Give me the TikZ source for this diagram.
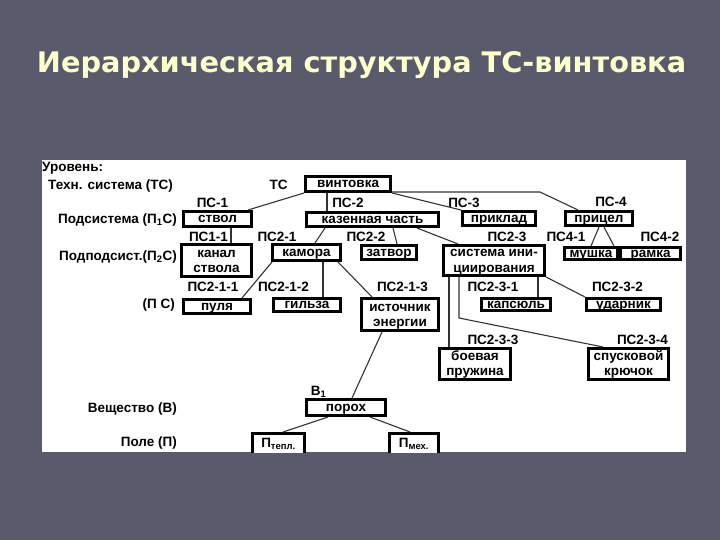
\documentclass[tikz,border=0pt]{standalone}
\usepackage{fontspec}
\usepackage{graphicx}
\setmainfont{Liberation Sans}
\newfontfamily\titlefont{DejaVu Sans}
\usetikzlibrary{calc}
\definecolor{bg}{RGB}{89,91,109}
\definecolor{ttl}{RGB}{255,255,204}
\begin{document}
\begin{tikzpicture}[x=1pt,y=-1pt,
  boxbase/.style={draw=black, line width=2.6pt, fill=white, inner sep=0pt,
    font=\bfseries\fontsize{13.5}{15}\selectfont},
  box/.style={boxbase, text height=10pt, text depth=2.4pt},
  box2/.style={boxbase, align=center, text height=24pt, text depth=1pt},
  lbl/.style={inner sep=0pt, font=\bfseries\fontsize{13.5}{15}\selectfont},
  con/.style={line width=1.1pt, draw=black!80}]
\fill[bg] (0,0) rectangle (720,540);
\useasboundingbox (0,0) rectangle (720,540);
\node[anchor=base, text=ttl, inner sep=0pt] (title) at (361.5,73)
  {\resizebox{649pt}{21pt}{\titlefont\bfseries Иерархическая структура ТС-винтовка}};
\fill[white] (42,160) rectangle (686,452);
\begin{scope}
\clip (42,160) rectangle (686,452);
% level labels
\node[lbl, anchor=west] (lv0) at (42,168) {Уровень:};
\node[lbl, anchor=west] (lv1) at (48,186) {Техн. система (ТС)};
\node[lbl, anchor=east] (lv2) at (177,220) {Подсистема (П\textsubscript{1}С)};
\node[lbl, anchor=east] (lv3) at (177,257) {Подподсист.(П\textsubscript{2}С)};
\node[lbl, anchor=east] (lv4) at (175,305) {(П С)};
\node[lbl, anchor=east] (lv5) at (177,409) {Вещество (В)};
\node[lbl, anchor=east] (lv6) at (177,443) {Поле (П)};
% boxes
\node[box, minimum width=85.4, minimum height=15.4] (vint) at (348,184) {винтовка};
\node[box, minimum width=68.4, minimum height=15.4] (stvol) at (217.5,219) {ствол};
\node[box, minimum width=132.4, minimum height=14.4] (kaz) at (372.5,219.5) {казенная часть};
\node[box, minimum width=73.4, minimum height=14.4] (priklad) at (499,218.5) {приклад};
\node[box, minimum width=67.4, minimum height=14.4] (pricel) at (599,218.5) {прицел};
\node[box2, minimum width=70.4, minimum height=32.4] (kanal) at (216.5,260.5) {канал\\ствола};
\node[box, minimum width=68.4, minimum height=16.4] (kamora) at (306.5,252.5) {камора};
\node[box, minimum width=55.4, minimum height=14.4] (zatvor) at (389,252.5) {затвор};
\node[box2, minimum width=101.4, minimum height=30.4, text height=25pt, text depth=1pt] (sistema) at (494,260.5) {система ини-\\[1pt]циирования};
\node[box, minimum width=53.4, minimum height=12.4] (mushka) at (591,253.5) {мушка};
\node[box, minimum width=60.4, minimum height=12.4] (ramka) at (650.5,253.5) {рамка};
\node[box, minimum width=67.4, minimum height=14.4] (pulya) at (217,306.5) {пуля};
\node[box, minimum width=67.4, minimum height=13.4] (gilza) at (307,305) {гильза};
\node[box2, minimum width=77.4, minimum height=32.4] (istochnik) at (400,314.5) {источник\\энергии};
\node[box, minimum width=69.4, minimum height=12.4] (kapsul) at (516,304.5) {капсюль};
\node[box, minimum width=74.4, minimum height=12.4] (udarnik) at (623.5,304.5) {ударник};
\node[box2, minimum width=71.4, minimum height=31.4] (boevaya) at (475,364) {боевая\\пружина};
\node[box2, minimum width=80.4, minimum height=31.4] (spusk) at (628.5,364) {спусковой\\крючок};
\node[box, minimum width=79.4, minimum height=16.4] (porokh) at (346,407.5) {порох};
\node[boxbase, minimum width=52.4, minimum height=21.4, text height=13pt, text depth=6pt] (pteplo) at (278.5,444) {П\textsubscript{тепл.}};
\node[boxbase, minimum width=49.4, minimum height=21.4, text height=13pt, text depth=6pt] (pmekh) at (414,444) {П\textsubscript{мех.}};
% level codes
\node[lbl] (tTS) at (278.5,185) {ТС};
\node[lbl] (tPS1) at (212.5,203) {ПС-1};
\node[lbl] (tPS2) at (348,203) {ПС-2};
\node[lbl] (tPS3) at (464,203) {ПС-3};
\node[lbl] (tPS4) at (611,202) {ПС-4};
\node[lbl] (tPS11) at (208.5,237) {ПС1-1};
\node[lbl] (tPS21) at (277,237) {ПС2-1};
\node[lbl] (tPS22) at (366,237) {ПС2-2};
\node[lbl] (tPS23) at (507,237) {ПС2-3};
\node[lbl] (tPS41) at (566,237) {ПС4-1};
\node[lbl] (tPS42) at (660,237) {ПС4-2};
\node[lbl] (tPS211) at (213,287) {ПС2-1-1};
\node[lbl] (tPS212) at (283.5,287) {ПС2-1-2};
\node[lbl] (tPS213) at (402.5,287) {ПС2-1-3};
\node[lbl] (tPS231) at (493,287) {ПС2-3-1};
\node[lbl] (tPS232) at (617.5,287) {ПС2-3-2};
\node[lbl] (tPS233) at (493,340) {ПС2-3-3};
\node[lbl] (tPS234) at (642.5,340) {ПС2-3-4};
\node[lbl] (tB1) at (318.5,392) {В\textsubscript{1}};
% connectors
\draw[con] (vint.south west) -- ([xshift=-5pt]stvol.north east);
\draw[con] ([xshift=-21pt]vint.south) -- ([xshift=-21pt]vint.south |- kaz.north);
\draw[con] (vint.south east) -- (priklad.north west);
\draw[con] ([yshift=1pt]vint.south east) -- ++(148,0) -- ([xshift=-21pt]pricel.north);
\draw[con] ([xshift=-47.5pt]kaz.south) -- ([xshift=8.5pt]kamora.north);
\draw[con] ([xshift=20.5pt]kaz.south) -- ([xshift=8pt]zatvor.north);
\draw[con] ([xshift=44.5pt]kaz.south) -- ([xshift=-36pt]sistema.north);
\draw[con] ([xshift=13.5pt]stvol.south) -- ([xshift=13.5pt]stvol.south |- kanal.north);
\draw[con] (pricel.south) -- (mushka.north);
\draw[con] ([xshift=5pt]pricel.south) -- ([xshift=-36.5pt]ramka.north);
\draw[con] ([xshift=1pt]kamora.south west) -- ([xshift=-10pt]pulya.north east);
\draw[con] ([xshift=16.5pt]kamora.south) -- ([xshift=16.5pt]kamora.south |- gilza.north);
\draw[con] ([xshift=-4pt]kamora.south east) -- ([xshift=-28pt]istochnik.north);
\draw[con] ([xshift=-45pt]sistema.south) -- ([xshift=-45pt]sistema.south |- boevaya.north);
\draw[con] ([xshift=-35pt]sistema.south) -- ++(0,41) -- ([xshift=-25.5pt]spusk.north);
\draw[con] ([xshift=44pt]sistema.south) -- ([xshift=44pt]sistema.south |- kapsul.north);
\draw[con] (sistema.south east) -- (udarnik.north west);
\draw[con] ([xshift=-18pt]istochnik.south) -- ([xshift=6pt]porokh.north);
\draw[con] ([xshift=-18pt]porokh.south) -- ([xshift=4.5pt]pteplo.north);
\draw[con] ([xshift=24pt]porokh.south) -- ([xshift=-4pt]pmekh.north);
\end{scope}
\end{tikzpicture}
\end{document}
